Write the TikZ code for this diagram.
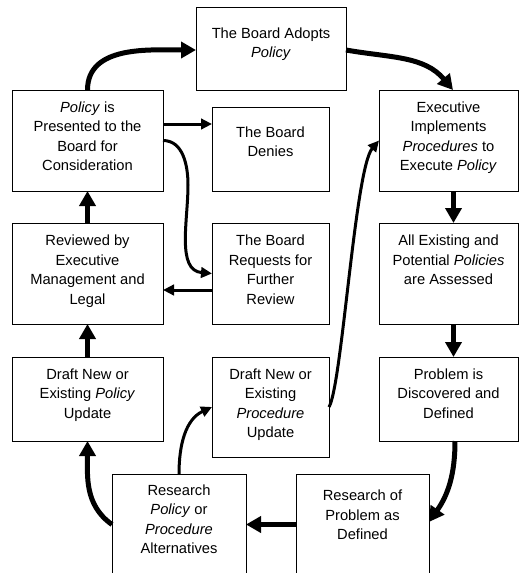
\documentclass[tikz,border=0pt]{standalone}
\usepackage{fontspec}
\setmainfont{Liberation Sans}
\usetikzlibrary{arrows.meta}
\begin{document}
\begin{tikzpicture}[x=1pt,y=-1pt,
  box/.style={draw=black,line width=1pt,inner sep=0pt,outer sep=0pt,minimum width=#1},
  txt/.style={align=center,inner sep=0pt,anchor=base,font=\fontsize{14.7}{19.6}\selectfont},
  bigarrow/.style={line width=5pt,-{Triangle[length=15pt,width=16pt]}},
  midarrow/.style={line width=3pt,-{Triangle[length=11pt,width=10.5pt]}}]
\useasboundingbox (0,0) rectangle (519,573);
% boxes
\node[box=150pt,minimum height=83pt] (adopt) at (271,48.5) {};
\node[box=151pt,minimum height=101pt] (pol) at (87.5,140.5) {};
\node[box=117pt,minimum height=84pt] (den) at (270.5,149) {};
\node[box=139pt,minimum height=101pt] (exec) at (448.5,140.5) {};
\node[box=151pt,minimum height=101pt] (rev) at (87.5,273.5) {};
\node[box=117pt,minimum height=101pt] (req) at (270.5,273.5) {};
\node[box=139pt,minimum height=101pt] (all) at (448.5,273.5) {};
\node[box=151pt,minimum height=84pt] (dpol) at (87.5,399) {};
\node[box=117pt,minimum height=100pt] (dproc) at (270.5,407) {};
\node[box=139pt,minimum height=84pt] (prob) at (448.5,399) {};
\node[box=134pt,minimum height=101pt] (rpol) at (179,524.5) {};
\node[box=133pt,minimum height=101pt] (rprob) at (362.5,524.5) {};
% texts (anchor = baseline of last line)
\node[txt] (tadopt) at (271,57.6) {The Board Adopts\\\textit{Policy}};
\node[txt] (tpol) at (87.5,170.8) {\textit{Policy} is\\Presented to the\\Board for\\Consideration};
\node[txt] (tden) at (270.5,156.6) {The Board\\Denies};
\node[txt] (texec) at (448.5,170.8) {Executive\\Implements\\\textit{Procedures} to\\Execute \textit{Policy}};
\node[txt] (trev) at (87.5,304.3) {Reviewed by\\Executive\\Management and\\Legal};
\node[txt] (treq) at (270.5,304.3) {The Board\\Requests for\\Further\\Review};
\node[txt] (tall) at (448.5,284.7) {All Existing and\\Potential \textit{Policies}\\are Assessed};
\node[txt] (tdpol) at (87.5,418.2) {Draft New or\\Existing \textit{Policy}\\Update};
\node[txt] (tdproc) at (270.5,437.8) {Draft New or\\Existing\\\textit{Procedure}\\Update};
\node[txt] (tprob) at (448.5,418.2) {Problem is\\Discovered and\\Defined};
\node[txt] (trpol) at (179,553.8) {Research\\\textit{Policy} or\\\textit{Procedure}\\Alternatives};
\node[txt] (trprob) at (362.5,539.7) {Research of\\Problem as\\Defined};
% thick cycle arrows
\draw[bigarrow] (pol.north) to[out=90,in=180] ([yshift=-1.5pt]adopt.west);
\draw[bigarrow] ([yshift=-1.5pt]adopt.east) to[out=-10,in=130] ([xshift=4.5pt]exec.north);
\draw[bigarrow] ([xshift=5pt]exec.south) -- ([xshift=5pt]all.north);
\draw[bigarrow] ([xshift=5pt]all.south) -- ([xshift=5pt]prob.north);
\draw[bigarrow] ([xshift=6.5pt]prob.south) to[out=-90,in=55] ([yshift=2.5pt]rprob.east);
\draw[bigarrow] (rprob.west) -- (rpol.east);
\draw[bigarrow] (rpol.west) to[out=145,in=-90] (dpol.south);
\draw[bigarrow] (dpol.north) -- (rev.south);
\draw[bigarrow] (rev.north) -- (pol.south);
% medium arrows
\draw[midarrow] ([yshift=16.5pt]pol.east) -- ([yshift=16.5pt]pol.east -| den.west);
\draw[midarrow] (pol.east) to[out=0,in=90] (188,185) to[out=-90,in=175] (req.west);
\draw[midarrow] ([yshift=-16.5pt]req.west) -- ([yshift=-16.5pt]req.west -| rev.east);
\draw[midarrow] (rpol.north) to[out=90,in=205] (dproc.west);
\draw[midarrow] (dproc.east) .. controls +(13,-22) and +(-24,28) .. (exec.west);
\end{tikzpicture}
\end{document}
